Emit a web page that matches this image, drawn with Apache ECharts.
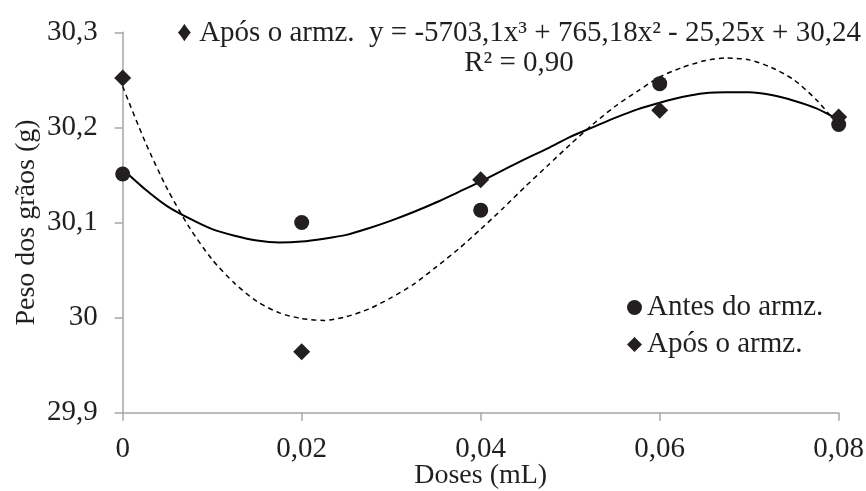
<!DOCTYPE html>
<html>
<head>
<meta charset="utf-8">
<script src="https://cdn.jsdelivr.net/npm/echarts@6/dist/echarts.min.js"></script>
<style>
html,body{margin:0;padding:0;background:#fff;}
#chart{width:866px;height:491px;}
</style>
</head>
<body>
<div id="chart"></div>
<script>
// Doses (mL)
const doses = [0, 0.02, 0.04, 0.06, 0.08];
// Peso dos grãos (g)
const antes = [30.151, 30.100, 30.113, 30.246, 30.203];
const apos  = [30.252, 29.964, 30.145, 30.218, 30.211];
// trendline points
const curveX = [0, 0.0025, 0.005, 0.0075, 0.01, 0.0125, 0.015, 0.0175, 0.02, 0.0225, 0.025, 0.0275, 0.03, 0.0325, 0.035, 0.0375, 0.04,
                0.0425, 0.045, 0.0475, 0.05, 0.0525, 0.055, 0.0575, 0.06, 0.0625, 0.065, 0.0675, 0.07, 0.0725, 0.075, 0.0775, 0.08];
const antesCurve = [30.156, 30.135, 30.117, 30.104, 30.093, 30.086, 30.081, 30.079, 30.080, 30.083, 30.087, 30.094, 30.102, 30.111, 30.121, 30.132, 30.143,
                    30.155, 30.167, 30.178, 30.190, 30.200, 30.210, 30.219, 30.226, 30.232, 30.236, 30.237, 30.237, 30.234, 30.228, 30.220, 30.208];
const aposCurve  = [30.243, 30.185, 30.135, 30.094, 30.061, 30.036, 30.017, 30.005, 29.999, 29.997, 30.001, 30.009, 30.021, 30.035, 30.053, 30.072, 30.093,
                    30.115, 30.138, 30.160, 30.182, 30.203, 30.222, 30.238, 30.253, 30.263, 30.270, 30.273, 30.271, 30.263, 30.250, 30.229, 30.202];
const legendNames = ['Antes do armz.', 'Após o armz.'];
const titleLines = ['\u2666 Após o armz.  y = -5703,1x\u00b3 + 765,18x\u00b2 - 25,25x + 30,24', 'R\u00b2 = 0,90'];
const xName = 'Doses (mL)';
const yName = 'Peso dos grãos (g)';

const FONT = '"Liberation Serif", "Times New Roman", serif';
const INK = '#231f20';
const AXIS = '#a6a6a6';

const pairs = (xs, ys) => xs.map((x, i) => [x, ys[i]]);

const chart = echarts.init(document.getElementById('chart'), null, {renderer: 'canvas'});
chart.setOption({
  animation: false,
  backgroundColor: '#fff',
  title: {
    text: titleLines.join('\n'),
    left: 514,
    top: 13,
    textAlign: 'center',
    textStyle: {fontFamily: FONT, fontWeight: 'normal', fontSize: 29, lineHeight: 30, color: INK}
  },
  legend: {
    orient: 'vertical',
    left: 622,
    top: 287,
    itemGap: 6,
    itemWidth: 15,
    itemHeight: 15,
    textStyle: {fontFamily: FONT, fontSize: 29, lineHeight: 31, color: INK},
    data: [
      {name: legendNames[0], icon: 'circle'},
      {name: legendNames[1], icon: 'diamond'}
    ]
  },
  grid: {left: 122.7, right: 27.3, top: 32.3, bottom: 78.3, containLabel: false, outerBoundsMode: 'none'},
  xAxis: {
    type: 'value',
    min: 0, max: 0.08, interval: 0.02,
    name: xName,
    nameLocation: 'middle',
    nameGap: 49,
    nameMoveOverlap: false,
    nameTextStyle: {fontFamily: FONT, fontSize: 28, lineHeight: 28, color: INK},
    axisLine: {show: true, lineStyle: {color: AXIS, width: 1.5}},
    axisTick: {show: true, inside: false, length: 8, lineStyle: {color: AXIS, width: 1.5}},
    splitLine: {show: false},
    axisLabel: {
      margin: 22,
      fontFamily: FONT, fontSize: 29, color: INK,
      formatter: v => (Math.abs(v) < 1e-9 ? '0' : (Math.round(v * 100) / 100).toFixed(2).replace('.', ','))
    }
  },
  yAxis: {
    type: 'value',
    min: 29.9, max: 30.3, interval: 0.1,
    name: yName,
    nameLocation: 'middle',
    nameGap: 82,
    nameRotate: 90,
    nameMoveOverlap: false,
    nameTextStyle: {fontFamily: FONT, fontSize: 28, color: INK},
    axisLine: {show: true, lineStyle: {color: AXIS, width: 1.5}},
    axisTick: {show: true, inside: false, length: 8, lineStyle: {color: AXIS, width: 1.5}},
    splitLine: {show: false},
    axisLabel: {
      margin: 25,
      fontFamily: FONT, fontSize: 29, color: INK,
      formatter: v => String(Math.round(v * 10) / 10).replace('.', ',')
    }
  },
  series: [
    {
      name: 'Antes trend', type: 'line', data: pairs(curveX, antesCurve),
      smooth: 0.25, symbol: 'none', silent: true,
      lineStyle: {color: '#000', width: 2, type: 'solid'}
    },
    {
      name: 'Após trend', type: 'line', data: pairs(curveX, aposCurve),
      smooth: 0.25, symbol: 'none', silent: true,
      lineStyle: {color: '#000', width: 1.5, type: [5, 4]}
    },
    {
      name: legendNames[0], type: 'scatter', data: pairs(doses, antes),
      symbol: 'circle', symbolSize: 15, z: 5,
      itemStyle: {color: INK, opacity: 1}
    },
    {
      name: legendNames[1], type: 'scatter', data: pairs(doses, apos),
      symbol: 'diamond', symbolSize: 17, z: 6,
      itemStyle: {color: INK, opacity: 1}
    }
  ]
});
</script>
</body>
</html>
